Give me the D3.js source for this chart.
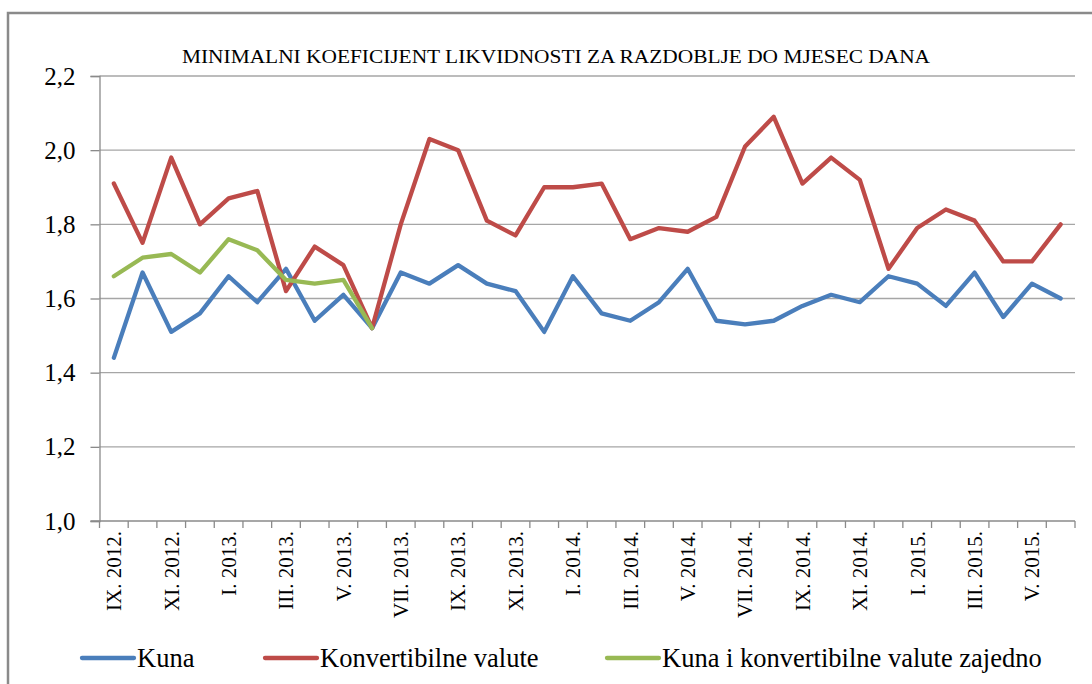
<!DOCTYPE html>
<html>
<head>
<meta charset="utf-8">
<script src="https://cdn.jsdelivr.net/npm/d3@7"></script>
<style>
  body { margin: 0; background: #fff; }
</style>
</head>
<body>
<div id="chart"></div>
<script>
// months IX. 2012. - VI. 2015.
const months = [
  "IX. 2012.", "X. 2012.", "XI. 2012.", "XII. 2012.",
  "I. 2013.", "II. 2013.", "III. 2013.", "IV. 2013.", "V. 2013.", "VI. 2013.",
  "VII. 2013.", "VIII. 2013.", "IX. 2013.", "X. 2013.", "XI. 2013.", "XII. 2013.",
  "I. 2014.", "II. 2014.", "III. 2014.", "IV. 2014.", "V. 2014.", "VI. 2014.",
  "VII. 2014.", "VIII. 2014.", "IX. 2014.", "X. 2014.", "XI. 2014.", "XII. 2014.",
  "I. 2015.", "II. 2015.", "III. 2015.", "IV. 2015.", "V. 2015.", "VI. 2015."
];

const kuna = [1.44, 1.67, 1.51, 1.56, 1.66, 1.59, 1.68, 1.54, 1.61, 1.52,
  1.67, 1.64, 1.69, 1.64, 1.62, 1.51, 1.66, 1.56, 1.54, 1.59, 1.68, 1.54,
  1.53, 1.54, 1.58, 1.61, 1.59, 1.66, 1.64, 1.58, 1.67, 1.55, 1.64, 1.60];

const konvertibilne = [1.91, 1.75, 1.98, 1.80, 1.87, 1.89, 1.62, 1.74, 1.69, 1.52,
  1.80, 2.03, 2.00, 1.81, 1.77, 1.90, 1.90, 1.91, 1.76, 1.79, 1.78, 1.82,
  2.01, 2.09, 1.91, 1.98, 1.92, 1.68, 1.79, 1.84, 1.81, 1.70, 1.70, 1.80];

// only up to VI. 2013.
const zajedno = [1.66, 1.71, 1.72, 1.67, 1.76, 1.73, 1.65, 1.64, 1.65, 1.52];

const yTicks = [1.0, 1.2, 1.4, 1.6, 1.8, 2.0, 2.2];

const seriesNames = ["Kuna", "Konvertibilne valute", "Kuna i konvertibilne valute zajedno"];
const seriesColors = ["#4a7ebb", "#be4b48", "#98b954"];

const title = "MINIMALNI KOEFICIJENT LIKVIDNOSTI ZA RAZDOBLJE DO MJESEC DANA";

const width = 1092, height = 684;
const plot = { left: 99.5, right: 1075, top: 76, bottom: 521 };
const serif = "'Liberation Serif', 'Times New Roman', serif";

const svg = d3.select("#chart").append("svg")
    .attr("width", width)
    .attr("height", height);

// outer frame (only top and left visible)
svg.append("path")
    .attr("d", `M8,${height} L8,13 L${width},13`)
    .attr("fill", "none")
    .attr("stroke", "#8a8a8a")
    .attr("stroke-width", 2.5);

const x = d3.scaleBand()
    .domain(months)
    .range([plot.left, plot.right]);

const y = d3.scaleLinear()
    .domain([1.0, 2.2])
    .range([plot.bottom, plot.top]);

const cx = m => x(m) + x.bandwidth() / 2;
const fmt = d3.formatLocale({ decimal: ",", thousands: ".", grouping: [3], currency: ["", ""] }).format(".1f");

// title
svg.append("text")
    .attr("x", 556)
    .attr("y", 63)
    .attr("text-anchor", "middle")
    .style("font-family", serif)
    .style("font-size", "19px")
    .attr("textLength", 748)
    .attr("lengthAdjust", "spacingAndGlyphs")
    .text(title);

// gridlines
svg.append("g")
    .selectAll("line")
    .data(yTicks.slice(1))
    .enter()
    .append("line")
    .attr("x1", plot.left)
    .attr("x2", plot.right)
    .attr("y1", d => y(d))
    .attr("y2", d => y(d))
    .attr("stroke", "#a6a6a6")
    .attr("stroke-width", 1.3);

// y axis
const yAxis = svg.append("g")
    .attr("transform", `translate(${plot.left},0)`)
    .call(d3.axisLeft(y).tickValues(yTicks).tickSize(9).tickPadding(15).tickFormat(fmt));
yAxis.select(".domain").attr("stroke", "#8a8a8a").attr("stroke-width", 1.3);
yAxis.selectAll(".tick line").attr("stroke", "#8a8a8a").attr("stroke-width", 1.3);
yAxis.selectAll(".tick text")
    .style("font-family", serif)
    .style("font-size", "25px")
    .attr("fill", "#000");

// x axis baseline and tick marks at category boundaries
const xAxis = svg.append("g");
xAxis.append("line")
    .attr("x1", plot.left - 9)
    .attr("x2", plot.right)
    .attr("y1", plot.bottom)
    .attr("y2", plot.bottom)
    .attr("stroke", "#8a8a8a")
    .attr("stroke-width", 1.3);

const boundaries = months.map(m => x(m)).concat([x.range()[1]]);
xAxis.selectAll(".xtick")
    .data(boundaries)
    .enter()
    .append("line")
    .attr("class", "xtick")
    .attr("x1", d => d)
    .attr("x2", d => d)
    .attr("y1", plot.bottom)
    .attr("y2", plot.bottom + 7)
    .attr("stroke", "#8a8a8a")
    .attr("stroke-width", 1.3);

xAxis.selectAll(".xlabel")
    .data(months.filter((m, i) => i % 2 === 0))
    .enter()
    .append("text")
    .attr("class", "xlabel")
    .attr("transform", d => `translate(${cx(d)},${plot.bottom + 10}) rotate(-90)`)
    .attr("text-anchor", "end")
    .attr("dy", "0.35em")
    .style("font-family", serif)
    .style("font-size", "21px")
    .text(d => d);

// lines
const line = d3.line()
    .defined(d => d[1] != null)
    .x(d => cx(d[0]))
    .y(d => y(d[1]));

const seriesData = [kuna, konvertibilne, zajedno];
svg.append("g")
    .selectAll("path")
    .data(seriesData)
    .enter()
    .append("path")
    .attr("d", vals => line(vals.map((v, i) => [months[i], v])))
    .attr("fill", "none")
    .attr("stroke", (d, i) => seriesColors[i])
    .attr("stroke-width", 4.3)
    .attr("stroke-linejoin", "round")
    .attr("stroke-linecap", "round");

// legend
const legendX = [82, 265, 607];
const legend = svg.append("g")
    .selectAll("g")
    .data(seriesNames)
    .enter()
    .append("g")
    .attr("transform", (d, i) => `translate(${legendX[i]},658)`);

legend.append("line")
    .attr("x1", 0)
    .attr("x2", 52)
    .attr("stroke", (d, i) => seriesColors[i])
    .attr("stroke-width", 4.3)
    .attr("stroke-linecap", "round");

legend.append("text")
    .attr("x", 55)
    .attr("dy", "0.33em")
    .style("font-family", serif)
    .style("font-size", "26.5px")
    .text(d => d);
</script>
</body>
</html>
